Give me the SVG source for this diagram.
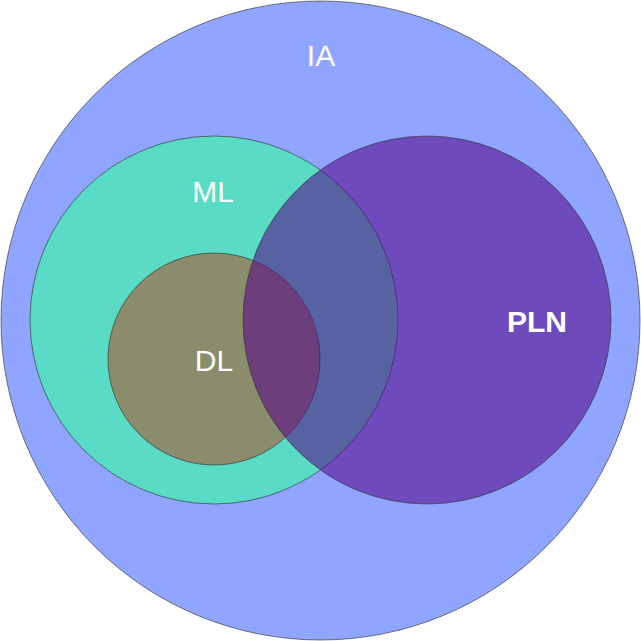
<svg xmlns="http://www.w3.org/2000/svg" width="641" height="641" viewBox="0 0 641 641">
<style>
.c{stroke:#333;stroke-width:0.8;stroke-opacity:0.8}
.t{font-family:"Liberation Sans",Arial,sans-serif;font-size:30px;fill:#fff;text-anchor:middle}
.b{font-weight:bold}
</style>
<rect width="641" height="641" fill="#fff"/>
<g id="IA"><circle class="c" cx="320.5" cy="320.5" r="319.5" fill="#8FA5FF"/><text class="t" x="321" y="66">IA</text></g>
<g id="ML"><circle class="c" cx="214" cy="320" r="184" fill="#5ADBC5"/><text class="t" x="213" y="202">ML</text></g>
<g id="DL"><circle class="c" cx="214" cy="359" r="106" fill="#8A8C6B"/><text class="t" x="214" y="371">DL</text></g>
<g id="PLN"><circle class="c" cx="427" cy="320" r="184" fill="#56048A" fill-opacity="0.56"/><text class="t b" x="537" y="332">PLN</text></g>
<g id="connectors"/>
</svg>
